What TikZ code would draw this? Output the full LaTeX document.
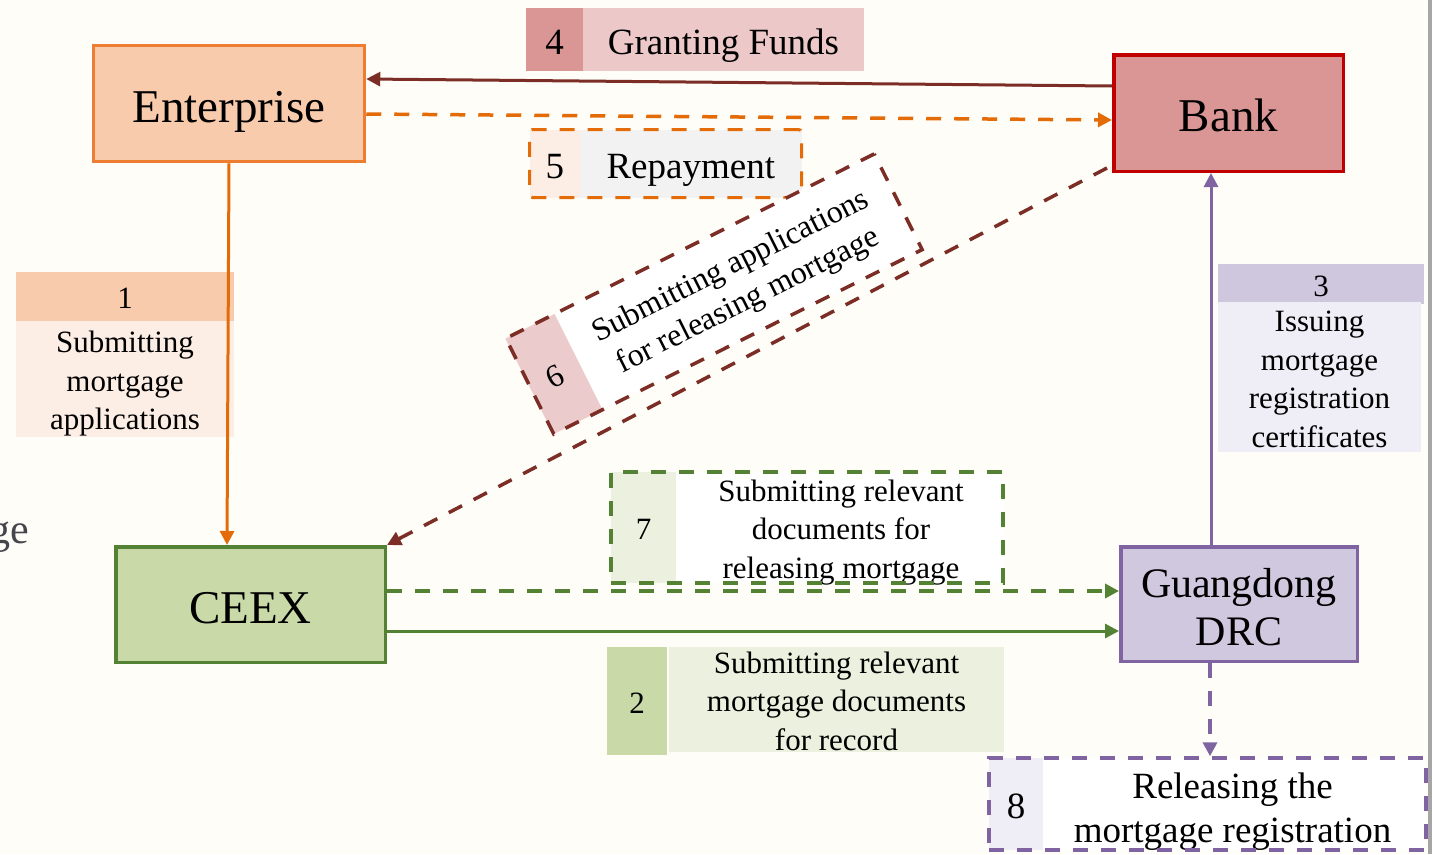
\documentclass[tikz,border=0pt]{standalone}
\usepackage{fontspec}
\setmainfont{Liberation Serif}
\usetikzlibrary{arrows.meta,calc}
\definecolor{bg}{HTML}{FEFDF8}
\definecolor{entfill}{HTML}{F8CBAD}
\definecolor{entdraw}{HTML}{ED7D31}
\definecolor{orarr}{HTML}{E36C09}
\definecolor{bankfill}{HTML}{D99694}
\definecolor{bankdraw}{HTML}{C00000}
\definecolor{dred}{HTML}{7B2D26}
\definecolor{ceexfill}{HTML}{C9DAA8}
\definecolor{grn}{HTML}{548235}
\definecolor{gdfill}{HTML}{D0C8DF}
\definecolor{purp}{HTML}{8064A2}
\definecolor{lavhead}{HTML}{CFC7DD}
\definecolor{lavbody}{HTML}{EFEDF5}
\definecolor{pinklight}{HTML}{ECC9C8}
\definecolor{peachlight}{HTML}{FDEEE5}
\definecolor{greylight}{HTML}{F2F2F2}
\definecolor{pinkcell}{HTML}{EBCBCB}
\definecolor{grnlight}{HTML}{EBF1DE}
\definecolor{stray}{HTML}{45464B}
\definecolor{edge}{HTML}{A6A6A6}
\begin{document}
\begin{tikzpicture}[x=1pt,y=-1pt,
  box/.style={draw, line width=3.5pt, inner sep=0pt, align=center},
  cell/.style={inner sep=0pt, outer sep=0pt, align=center},
  txt/.style={inner sep=0pt, align=center},
  big/.style={font=\fontsize{47}{56}\selectfont, text height=49.4pt, text depth=11.8pt},
  small/.style={font=\fontsize{31}{38.5}\selectfont, text height=32.6pt, text depth=7.8pt},
  smallml/.style={font=\fontsize{31}{38.5}\selectfont},
  mid/.style={font=\fontsize{37}{44}\selectfont, text height=38.9pt, text depth=9.3pt},
  midml/.style={font=\fontsize{37}{44}\selectfont},
  tip/.style={-{Triangle[length=14pt,width=14pt]}},
  dashpat/.style={dash pattern=on 15pt off 13pt},
  solidarr/.style={line width=3pt, tip},
  dasharr/.style={line width=3.5pt, dashpat, tip},
]
\useasboundingbox (0,0) rectangle (1432,854);
\fill[bg] (0,0) rectangle (1432,854);
\fill[edge] (1427.5,0) rectangle (1432,854);
\node[anchor=base east, text=stray, font=\fontsize{42}{50}\selectfont] (ge) at (33,543) {ge};

% main boxes
\node[box, draw=entdraw, fill=entfill, big, minimum width=271pt, minimum height=116pt] (ent) at (229,103.5) {Enterprise};
\node[box, draw=bankdraw, fill=bankfill, big, minimum width=229.5pt, minimum height=116.5pt] (bank) at (1228.5,113) {Bank};
\node[box, draw=grn, fill=ceexfill, big, minimum width=269.5pt, minimum height=115.5pt] (ceex) at (250.5,604.5) {CEEX};
\node[box, draw=purp, fill=gdfill, minimum width=236.5pt, minimum height=114.5pt] (gd) at (1239,604) {};
\node[txt, font=\fontsize{42}{48.5}\selectfont] (gdtxt) at ($(gd)+(0,3)$) {Guangdong\\DRC};

% label 4
\node[cell, fill=bankfill, mid, minimum width=57pt, minimum height=63pt] (n4) at (554.5,39.5) {4};
\node[cell, fill=pinklight, mid, minimum width=281pt, minimum height=63pt] (t4) at (723.5,39.5) {Granting Funds};

% label 5
\node[cell, fill=peachlight, mid, minimum width=50.5pt, minimum height=68pt] (n5) at (554.75,163.5) {5};
\node[cell, fill=greylight, mid, minimum width=221.5pt, minimum height=68pt] (t5) at (690.75,163.5) {Repayment};
\node[draw=orarr, line width=3pt, dashpat, rounded corners=3pt, inner sep=0pt, minimum width=272pt, minimum height=68pt] (l5) at (665.5,163.5) {};

% label 6 (rotated)
\begin{scope}[shift={(714,294)}, rotate=26.6, transform shape]
  \node[cell, fill=pinkcell, font=\fontsize{32}{38.5}\selectfont, text height=33.6pt, text depth=8pt, minimum width=55pt, minimum height=107pt] (n6) at (-179,0) {6};
  \node[cell, fill=white, minimum width=357pt, minimum height=107pt] (t6) at (27.5,0) {};
  \node[txt, font=\fontsize{32}{38.5}\selectfont] (t6txt) at (27.5,3) {Submitting applications\\for releasing mortgage};
  \node[draw=dred, line width=3.5pt, dashpat, inner sep=0pt, minimum width=412pt, minimum height=107pt] (l6) at (0,0) {};
\end{scope}

% label 1
\node[cell, fill=entfill, small, minimum width=218pt, minimum height=49pt] (h1) at (125,296.5) {1};
\node[cell, fill=peachlight, minimum width=218pt, minimum height=116pt] (b1) at (125,379) {};
\node[txt, smallml] (b1txt) at ($(b1)+(0,5)$) {Submitting\\mortgage\\applications};

% label 3
\node[cell, fill=lavhead, small, minimum width=206pt, minimum height=36pt] (h3) at (1321,284) {3};
\node[cell, fill=lavbody, minimum width=203pt, minimum height=150pt] (b3) at (1319.5,377) {};
\node[txt, smallml] (b3txt) at ($(b3)+(0,2.5)$) {Issuing\\mortgage\\registration\\certificates};

% label 7
\node[cell, fill=grnlight, small, minimum width=65pt, minimum height=111pt] (n7) at (643.5,527.5) {7};
\node[cell, fill=white, minimum width=327pt, minimum height=111pt] (t7) at (839.5,527.5) {};
\node[txt, smallml] (t7txt) at ($(t7)+(1.5,5)$) {Submitting relevant\\documents for\\releasing mortgage};
\node[draw=grn, line width=3.5pt, dashpat, inner sep=0pt, minimum width=392pt, minimum height=111pt] (l7) at (807,527.5) {};

% label 2
\node[cell, fill=ceexfill, small, minimum width=60pt, minimum height=108pt] (n2) at (637,701) {2};
\node[cell, fill=grnlight, minimum width=335pt, minimum height=105pt] (t2) at (836.5,699.5) {};
\node[txt, smallml] (t2txt) at ($(t2)+(0,1.5)$) {Submitting relevant\\mortgage documents\\for record};

% label 8
\node[cell, fill=lavbody, mid, minimum width=54pt, minimum height=92pt] (n8) at (1016,804) {8};
\node[cell, fill=white, minimum width=383pt, minimum height=92pt] (t8) at (1234.5,804) {};
\node[txt, midml] (t8txt) at ($(t8)+(-2,8)$) {Releasing the\\mortgage registration};
\node[draw=purp, line width=3.5pt, dashpat, inner sep=0pt, minimum width=437pt, minimum height=92pt] (l8) at (1207.5,804) {};

% connectors
\draw[orarr, solidarr] (ent.south) -- ($(ceex.north)+(-23.5,0)$);
\draw[dred, solidarr] ($(bank.west)+(0,-27)$) -- ($(ent.east)+(0,-24.5)$);
\draw[orarr, dasharr] ($(ent.east)+(0,10.5)$) -- ($(bank.west)+(0,7)$);
\draw[dred, dasharr] ($(bank.south west)+(-5,-5)$) -- (ceex.north east);
\draw[grn, dasharr] ($(ceex.east)+(0,-13.5)$) -- ($(gd.west)+(0,-13)$);
\draw[grn, solidarr] ($(ceex.east)+(0,26.5)$) -- ($(gd.west)+(0,27)$);
\draw[purp, solidarr] ($(gd.north)+(-28,0)$) -- ($(bank.south)+(-17.5,0)$);
\draw[purp, dasharr] ($(gd.south)+(-29,0)$) -- ($(l8.north)+(2.5,0)$);
\end{tikzpicture}
\end{document}
